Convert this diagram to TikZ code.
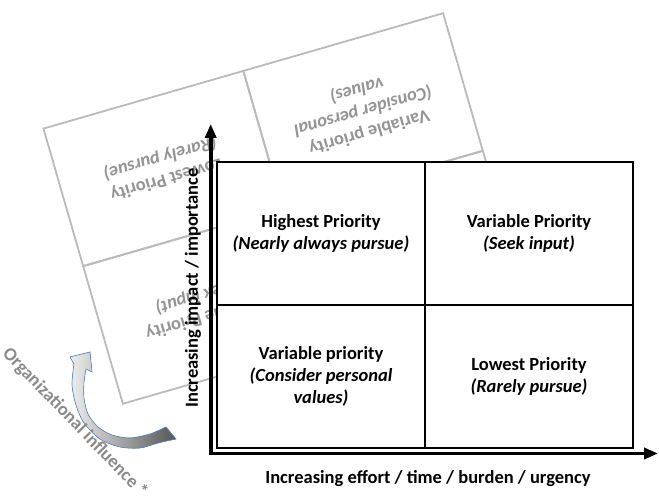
\documentclass[tikz,border=0pt]{standalone}
\usepackage{fontspec}
\setmainfont{Carlito}
\usetikzlibrary{arrows.meta,positioning}
\definecolor{arrowlight}{RGB}{238,238,238}
\definecolor{arrowdark}{RGB}{85,85,85}
\definecolor{arrowedge}{RGB}{95,135,195}

\begin{document}
\begin{tikzpicture}[x=1pt, y=1pt,
    cell/.style={draw, line width=1.8pt, fill=white, outer sep=0pt, minimum width=208pt, minimum height=143.2pt, align=center, font=\fontsize{18.5}{22}\selectfont\bfseries},
    backcell/.style={cell, draw=black!27, fill=none, text=black!42},
    axis/.style={line width=3.6pt, line join=miter, {Triangle[length=14pt,width=11pt]}-{Triangle[length=14pt,width=11pt]}},
    axislabel/.style={font=\fontsize{18.5}{22}\selectfont\bfseries},
    infarrow/.style={draw=arrowedge, line width=0.6pt, left color=arrowlight, right color=arrowdark}]
  \useasboundingbox (0,0) rectangle (659,502);

  % Rotated grid behind
  \begin{scope}[shift={(283,293.5)}, rotate=196.1, every node/.append style={transform shape}]
    \node[backcell] (bhp) at (-104,71.6) {};
    \node[backcell] (bvs) [right=0pt of bhp] {Variable Priority\\\textit{(Seek input)}};
    \node[backcell] (bvc) [below=0pt of bhp] {Variable priority\\\textit{(Consider personal}\\\textit{values)}};
    \node[backcell] (blp) [below=0pt of bvs] {Lowest Priority\\\textit{(Rarely pursue)}};
  \end{scope}

  % Front grid
  \node[cell] (hp) at (321,268.6) {Highest Priority\\\textit{(Nearly always pursue)}};
  \node[cell] (vs) [right=0pt of hp] {Variable Priority\\\textit{(Seek input)}};
  \node[cell] (vc) [below=0pt of hp] {Variable priority\\\textit{(Consider personal}\\\textit{values)}};
  \node[cell] (lp) [below=0pt of vs] {Lowest Priority\\\textit{(Rarely pursue)}};

  % Axes
  \coordinate (origin) at (210.7,48.5);
  \coordinate (ytip) at (210.7,378);
  \coordinate (xtip) at (658,48.5);
  \draw[axis] (ytip) -- (origin) -- (xtip);

  % Labels
  \node[axislabel] (xlab) at (428,23) {Increasing effort / time / burden / urgency};
  \node[axislabel, rotate=90] (ylab) at (193,214) {Increasing impact / importance};

  % Organizational influence
  \filldraw[infarrow] plot[smooth] coordinates {(176,63) (158,59) (140,54) (120,55) (100,63) (84,79) (76,97) (72,117) (74,138)}
    -- (70,145) -- (90,150) -- (92,130)
    -- plot[smooth] coordinates {(86,133) (84,120) (84,104) (88,88) (98,75) (112,67) (130,64) (150,68) (166,75)} -- cycle;
  \node[axislabel, text=black!46, rotate=-46, inner sep=1pt] (org) at (75,79) {Organizational influence *};
\end{tikzpicture}
\end{document}
